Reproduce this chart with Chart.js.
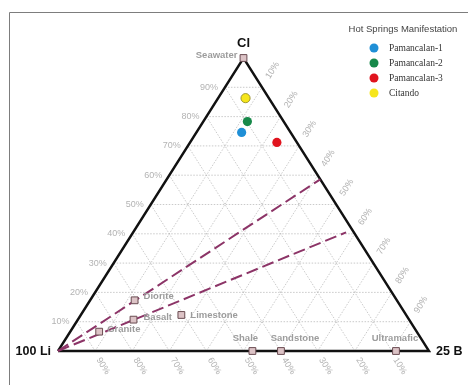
<!DOCTYPE html>
<html>
<head>
<meta charset="utf-8">
<script src="https://cdn.jsdelivr.net/npm/chart.js@4/dist/chart.umd.min.js"></script>
<style>
  html, body { margin: 0; padding: 0; background: #fff; }
  #wrap { width: 468px; height: 385px; position: relative; }
</style>
</head>
<body>
<div id="wrap"><canvas id="c"></canvas></div>
<script>
// Cl-Li-B ternary diagram (percent of Cl + 100·Li + 25·B)

// hot spring samples
const springNames = ['Pamancalan-1', 'Pamancalan-2', 'Pamancalan-3', 'Citando'];
const springCl = [74.6, 78.3, 71.2, 86.3];
const springLi = [13.2, 9.8, 5.4, 6.3];
const springB  = [12.2, 11.9, 23.4, 7.4];
const springColors = ['#1f8fd6', '#17894a', '#e0141e', '#f6e61c'];

// reference rock / water compositions
const rockNames = ['Seawater', 'Diorite', 'Basalt', 'Granite', 'Limestone', 'Shale', 'Sandstone', 'Ultramafic'];
const rockCl = [100, 17.3, 10.7, 6.6, 12.3, 0, 0, 0];
const rockLi = [0, 70.7, 74.3, 85.6, 60.6, 47.6, 39.9, 8.9];
const rockB  = [0, 12.0, 15.0, 7.8, 27.1, 52.4, 60.1, 91.1];

// dashed trend lines from the Li apex to the Cl-B side
const trendEndCl = [58.6, 40.5];
const trendEndLi = [0, 2.1];
const trendEndB  = [41.4, 57.4];

// grid and tick labels
const gridSteps = [10, 20, 30, 40, 50, 60, 70, 80, 90];
const clTickLabels = ['10%', '20%', '30%', '40%', '50%', '60%', '70%', '80%', '90%'];
const bTickLabels  = ['10%', '20%', '30%', '40%', '50%', '60%', '70%', '80%', '90%'];
const liTickLabels = ['10%', '20%', '30%', '40%', '50%', '60%', '70%', '80%', '90%'];

const apexLabels = ['Cl', '100 Li', '25 B'];
const legendTitle = 'Hot Springs Manifestation';

// ternary -> cartesian (Li at origin, B at x=1, Cl apex at (0.5, 1))
function tern(cl, li, b) {
  const s = cl + li + b;
  return { x: (b + cl / 2) / s, y: cl / s };
}

const datasets = [];

// grid lines
gridSteps.forEach(k => {
  const segs = [
    [tern(k, 100 - k, 0), tern(k, 0, 100 - k)],       // constant Cl
    [tern(0, 100 - k, k), tern(100 - k, 0, k)],       // constant B
    [tern(0, k, 100 - k), tern(100 - k, k, 0)]        // constant Li
  ];
  segs.forEach(seg => datasets.push({
    data: seg, showLine: true, borderColor: '#bdbdbd', borderWidth: 0.8,
    borderDash: [1.5, 1.5], pointRadius: 0, order: 10
  }));
});

// triangle outline
datasets.push({
  data: [tern(0, 100, 0), tern(0, 0, 100), tern(100, 0, 0), tern(0, 100, 0)],
  showLine: true, borderColor: '#111', borderWidth: 2.4, pointRadius: 0, order: 8,
  borderJoinStyle: 'miter'
});

// dashed trend lines
trendEndCl.forEach((cl, i) => datasets.push({
  data: [tern(0, 100, 0), tern(cl, trendEndLi[i], trendEndB[i])],
  showLine: true, borderColor: '#8c3467', borderWidth: 2,
  borderDash: [12, 5], pointRadius: 0, order: 7
}));

// reference compositions
datasets.push({
  data: rockCl.map((cl, i) => tern(cl, rockLi[i], rockB[i])),
  showLine: false, pointStyle: 'rect', pointRadius: 4.8,
  pointBackgroundColor: '#dcc3c6', pointBorderColor: '#6a4c52', pointBorderWidth: 1, order: 5
});

// samples
springNames.forEach((n, i) => datasets.push({
  label: n,
  data: [tern(springCl[i], springLi[i], springB[i])],
  showLine: false, pointStyle: 'circle', pointRadius: 4.6,
  pointBackgroundColor: springColors[i],
  pointBorderColor: i === 3 ? '#8a8420' : springColors[i], pointBorderWidth: i === 3 ? 0.8 : 0,
  order: 1
}));

const annotate = {
  id: 'annotate',
  beforeDraw(chart) {
    const ctx = chart.ctx;
    ctx.save();
    ctx.fillStyle = '#fff';
    ctx.fillRect(0, 0, chart.width, chart.height);
    ctx.strokeStyle = '#7d7d7d';
    ctx.lineWidth = 1;
    ctx.beginPath();
    ctx.moveTo(9.5, 385);
    ctx.lineTo(9.5, 12.5);
    ctx.lineTo(468, 12.5);
    ctx.stroke();
    ctx.restore();
  },
  afterDatasetsDraw(chart) {
    const ctx = chart.ctx;
    const sx = chart.scales.x, sy = chart.scales.y;
    const px = p => ({ x: sx.getPixelForValue(p.x), y: sy.getPixelForValue(p.y) });
    const ang = Math.atan2(sy.getPixelForValue(0) - sy.getPixelForValue(1),
                           sx.getPixelForValue(0.5) - sx.getPixelForValue(0));
    ctx.save();
    ctx.textBaseline = 'middle';

    // tick labels
    ctx.font = '9px "Liberation Sans", Arial, sans-serif';
    ctx.fillStyle = '#b3b3b3';
    gridSteps.forEach((k, i) => {
      // Cl along the left side
      let p = px(tern(k, 100 - k, 0));
      ctx.textAlign = 'right';
      ctx.fillText(clTickLabels[i], p.x - 7, p.y);
      // B along the right side
      p = px(tern(100 - k, 0, k));
      ctx.save();
      ctx.translate(p.x + 10.5, p.y - 17);
      ctx.rotate(-ang);
      ctx.textAlign = 'center';
      ctx.fillText(bTickLabels[i], 0, 0);
      ctx.restore();
      // Li along the base
      p = px(tern(0, k, 100 - k));
      ctx.save();
      ctx.translate(p.x + 8, p.y + 15);
      ctx.rotate(ang);
      ctx.textAlign = 'center';
      ctx.fillText(liTickLabels[i], 0, 0);
      ctx.restore();
    });

    // reference composition labels
    const offs = [
      ['right', -6, -3], ['left', 9, -4], ['left', 10, -2], ['left', 8, -2],
      ['left', 9, 0], ['center', -7, -13], ['center', 14, -13], ['center', -1, -13]
    ];
    ctx.font = 'bold 9.5px "Liberation Sans", Arial, sans-serif';
    ctx.fillStyle = '#9c9c9c';
    rockNames.forEach((n, i) => {
      const p = px(tern(rockCl[i], rockLi[i], rockB[i]));
      ctx.textAlign = offs[i][0];
      ctx.fillText(n, p.x + offs[i][1], p.y + offs[i][2]);
    });

    // apex labels
    ctx.fillStyle = '#111';
    ctx.font = 'bold 13px "Liberation Sans", Arial, sans-serif';
    let a = px(tern(100, 0, 0));
    ctx.textAlign = 'center';
    ctx.fillText(apexLabels[0], a.x, a.y - 15);
    ctx.font = 'bold 12.5px "Liberation Sans", Arial, sans-serif';
    a = px(tern(0, 100, 0));
    ctx.textAlign = 'right';
    ctx.fillText(apexLabels[1], a.x - 7, a.y + 1);
    a = px(tern(0, 0, 100));
    ctx.textAlign = 'left';
    ctx.fillText(apexLabels[2], a.x + 7, a.y + 1);

    // legend
    ctx.textAlign = 'center';
    ctx.fillStyle = '#444';
    ctx.font = '9.5px "Liberation Sans", Arial, sans-serif';
    ctx.fillText(legendTitle, 403, 29);
    ctx.font = '9.5px "Liberation Serif", "Times New Roman", serif';
    springNames.forEach((n, i) => {
      const y = 48 + i * 15;
      ctx.beginPath();
      ctx.arc(374, y, 4.5, 0, Math.PI * 2);
      ctx.fillStyle = springColors[i];
      ctx.fill();
      ctx.fillStyle = '#333';
      ctx.textAlign = 'left';
      ctx.fillText(n, 389, y);
    });
    ctx.restore();
  }
};

new Chart(document.getElementById('c'), {
  type: 'scatter',
  data: { datasets },
  options: {
    responsive: true,
    maintainAspectRatio: false,
    animation: false,
    layout: { padding: 0, autoPadding: false },
    plugins: { legend: { display: false }, tooltip: { enabled: false } },
    scales: {
      x: { type: 'linear', display: false, min: -58 / 371, max: 410 / 371 },
      y: { type: 'linear', display: false, min: -34 / 293, max: 351 / 293 }
    }
  },
  plugins: [annotate]
});
</script>
</body>
</html>
